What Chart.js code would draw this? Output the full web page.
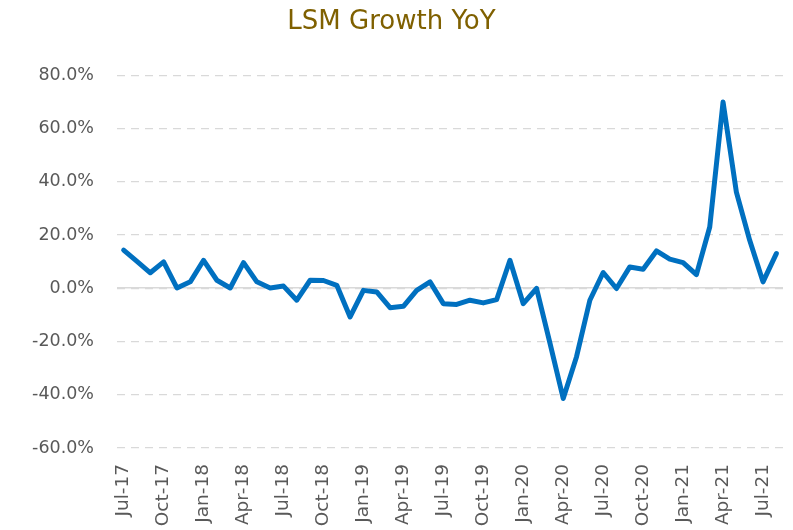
<!DOCTYPE html>
<html>
<head>
<meta charset="utf-8">
<script src="https://cdn.jsdelivr.net/npm/chart.js@4.4.1/dist/chart.umd.min.js"></script>
<style>
  html, body { margin: 0; padding: 0; background: #ffffff; }
  #wrap { width: 793px; height: 530px; }
</style>
</head>
<body>
<div id="wrap"><canvas id="c" width="793" height="530"></canvas></div>
<script>
const chartTitle = "LSM Growth YoY";
const months = [
  "Jul-17","Aug-17","Sep-17","Oct-17","Nov-17","Dec-17",
  "Jan-18","Feb-18","Mar-18","Apr-18","May-18","Jun-18",
  "Jul-18","Aug-18","Sep-18","Oct-18","Nov-18","Dec-18",
  "Jan-19","Feb-19","Mar-19","Apr-19","May-19","Jun-19",
  "Jul-19","Aug-19","Sep-19","Oct-19","Nov-19","Dec-19",
  "Jan-20","Feb-20","Mar-20","Apr-20","May-20","Jun-20",
  "Jul-20","Aug-20","Sep-20","Oct-20","Nov-20","Dec-20",
  "Jan-21","Feb-21","Mar-21","Apr-21","May-21","Jun-21",
  "Jul-21","Aug-21"
];
const growthYoY = [
  14.3, 10.1, 5.8, 9.9, 0.1, 2.4, 10.5, 3.0, 0.1, 9.6,
  2.4, 0.1, 0.8, -4.5, 3.0, 2.9, 1.1, -10.8, -0.8, -1.4,
  -7.3, -6.8, -0.8, 2.4, -5.8, -6.1, -4.5, -5.5, -4.3, 10.5,
  -5.8, -0.1, -20.5, -41.4, -25.7, -4.5, 5.9, -0.1, 8.0, 7.1,
  14.0, 10.9, 9.6, 5.1, 23.0, 69.9, 36.1, 18.0, 2.4, 13.0
];
const yMin = -60, yMax = 80, yStep = 20;
const labelEvery = 3;

const textGray = "#595959";
const gridGray = "#D9D9D9";

new Chart(document.getElementById("c"), {
  type: "line",
  data: {
    labels: months,
    datasets: [{
      data: growthYoY,
      borderColor: "#0070C0",
      borderWidth: 5,
      pointRadius: 0,
      pointHoverRadius: 0,
      tension: 0,
      fill: false,
      borderJoinStyle: "round",
      borderCapStyle: "round"
    }]
  },
  options: {
    responsive: false,
    animation: false,
    events: [],
    layout: { padding: { left: 0, right: 10, top: 0, bottom: 0 } },
    plugins: {
      legend: { display: false },
      tooltip: { enabled: false },
      title: {
        display: true,
        text: chartTitle,
        color: "#7F6000",
        font: { family: "DejaVu Sans", size: 26, weight: "normal" },
        padding: { top: 7, bottom: 37 }
      }
    },
    scales: {
      x: {
        type: "category",
        offset: true,
        grid: { display: false, drawTicks: false },
        border: { display: false },
        ticks: {
          autoSkip: false,
          maxRotation: 90,
          minRotation: 90,
          padding: 16,
          color: textGray,
          font: { family: "DejaVu Sans", size: 18.5 },
          callback: function(val, idx) { return idx % labelEvery === 0 ? this.getLabelForValue(val) : ""; }
        },
        afterFit: function(scale) {
          scale.height = 82;
          scale.paddingLeft = 0;
          scale.paddingRight = 0;
        }
      },
      y: {
        min: yMin,
        max: yMax,
        grid: { color: gridGray, lineWidth: 1.3, drawTicks: false },
        border: { display: false, dash: [8, 6] },
        ticks: {
          stepSize: yStep,
          padding: 23,
          color: textGray,
          font: { family: "DejaVu Sans", size: 17.5 },
          callback: (v) => v.toFixed(1) + "%"
        },
        afterFit: function(scale) { scale.width = 117; }
      },
      yZero: {
        position: "left",
        min: yMin,
        max: yMax,
        display: true,
        grid: { color: gridGray, lineWidth: 1.6, drawTicks: false },
        border: { display: false },
        ticks: { display: false },
        afterBuildTicks: function(scale) { scale.ticks = [{ value: 0 }]; },
        afterFit: function(scale) { scale.width = 0; }
      }
    }
  }
});
</script>
</body>
</html>
